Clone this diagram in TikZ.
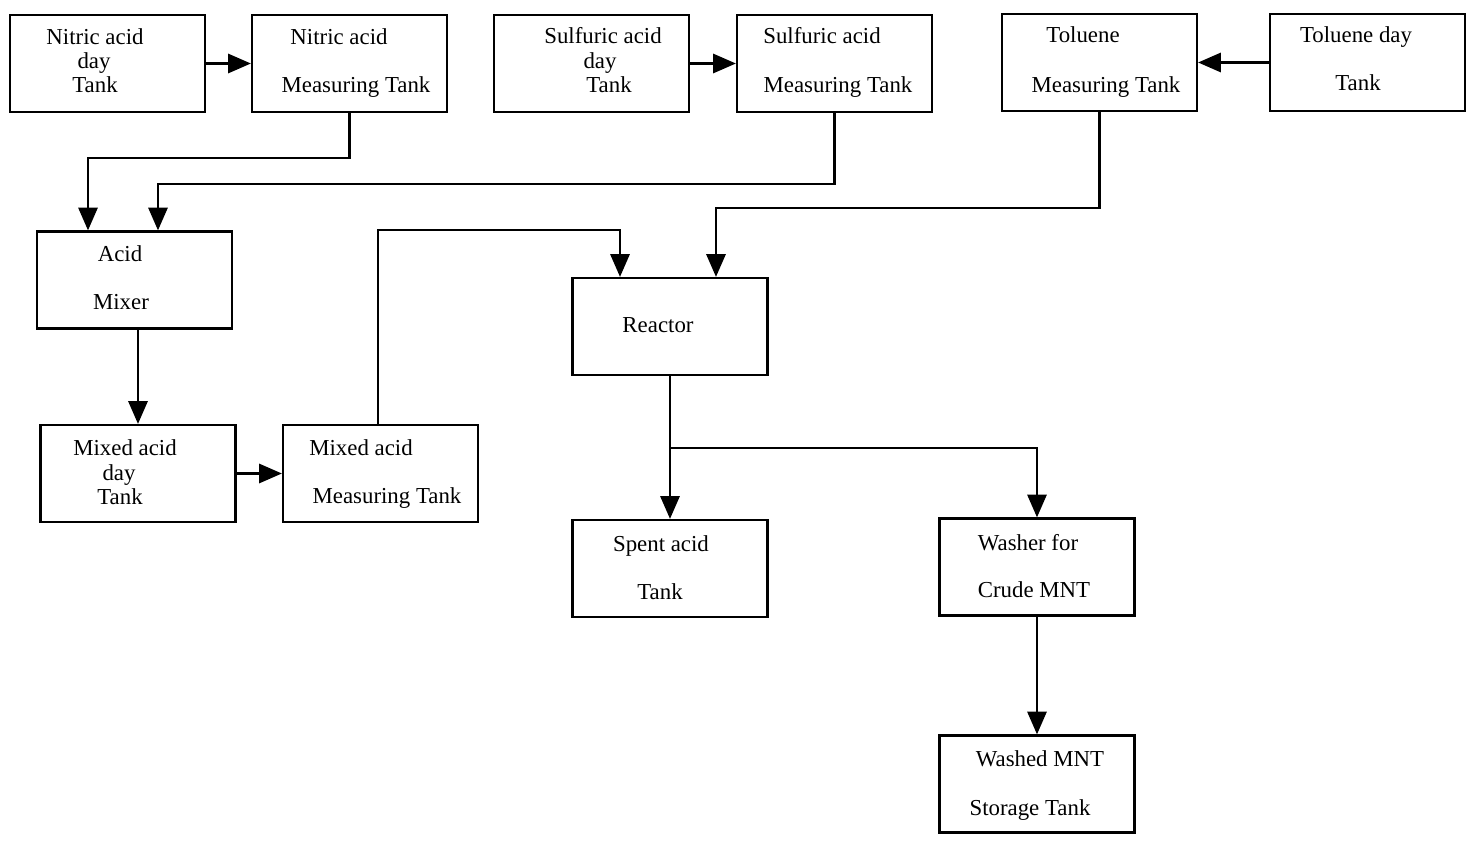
\documentclass[tikz,border=0pt]{standalone}
\usepackage{fontspec}
\setmainfont{Liberation Serif}
\usetikzlibrary{arrows.meta}

\tikzset{
  box/.style={draw, line width=1.3pt, minimum width=3.9cm, minimum height=1.94cm, inner sep=0pt},
  lbl/.style={anchor=base, inner sep=0pt, font=\fontsize{13}{15}\selectfont},
  flow/.style={line width=1.25pt, -{Triangle[length=13pt,width=11pt]}},
}

\begin{document}
\begin{tikzpicture}[x=0.02cm, y=-0.02cm]
\useasboundingbox (0,0) rectangle (1468,841);

% tanks and units
\node[box] (ndt) at (107.5,63.5) {};
\node[box] (nmt) at (349.5,63.5) {};
\node[box] (sdt) at (591.5,63.5) {};
\node[box] (smt) at (834.5,63.5) {};
\node[box] (tmt) at (1099.5,62.5) {};
\node[box] (tdt) at (1367.5,62.5) {};
\node[box] (mix) at (134.5,280) {};
\node[box] (rea) at (670,326.5) {};
\node[box] (mdt) at (138,473.5) {};
\node[box] (mmt) at (380.5,473.5) {};
\node[box] (spt) at (670,568.5) {};
\node[box] (was) at (1037,567) {};
\node[box] (sto) at (1037,784) {};

% labels
\node[lbl] (ndt1) at (95,45) {Nitric acid};
\node[lbl] (ndt2) at (94,69) {day};
\node[lbl] (ndt3) at (95,93) {Tank};

\node[lbl] (nmt1) at (339,45) {Nitric acid};
\node[lbl] (nmt2) at (356,93) {Measuring Tank};

\node[lbl] (sdt1) at (603,44) {Sulfuric acid};
\node[lbl] (sdt2) at (600,69) {day};
\node[lbl] (sdt3) at (609,93) {Tank};

\node[lbl] (smt1) at (822,44) {Sulfuric acid};
\node[lbl] (smt2) at (838,93) {Measuring Tank};

\node[lbl] (tmt1) at (1083,43) {Toluene};
\node[lbl] (tmt2) at (1106,93) {Measuring Tank};

\node[lbl] (tdt1) at (1356,43) {Toluene day};
\node[lbl] (tdt2) at (1358,91) {Tank};

\node[lbl] (mix1) at (120,262) {Acid};
\node[lbl] (mix2) at (121,310) {Mixer};

\node[lbl] (rea1) at (658,333) {Reactor};

\node[lbl] (mdt1) at (125,455) {Mixed acid};
\node[lbl] (mdt2) at (119,480) {day};
\node[lbl] (mdt3) at (120,504) {Tank};

\node[lbl] (mmt1) at (361,455) {Mixed acid};
\node[lbl] (mmt2) at (387,503) {Measuring Tank};

\node[lbl] (spt1) at (661,551) {Spent acid};
\node[lbl] (spt2) at (660,599) {Tank};

\node[lbl] (was1) at (1028,550) {Washer for};
\node[lbl] (was2) at (1034,597) {Crude MNT};

\node[lbl] (sto1) at (1040,766) {Washed MNT};
\node[lbl] (sto2) at (1030,815) {Storage Tank};

% flows
\draw[flow] (ndt.east) -- (nmt.west);
\draw[flow] (sdt.east) -- (smt.west);
\draw[flow] (tdt.west) -- (tmt.east);

\draw[flow] (nmt.south) -- ++(0,45) -| ([xshift=-0.93cm]mix.north);
\draw[flow] (smt.south) -- ++(0,71) -| ([xshift=0.47cm]mix.north);
\draw[flow] (tmt.south) -- ++(0,96) -| ([xshift=0.92cm]rea.north);
\draw[flow] ([xshift=-0.05cm]mmt.north) -- ++(0,-194) -| ([xshift=-1cm]rea.north);

\draw[flow] (mix.south -| mdt.north) -- (mdt.north);
\draw[flow] (mdt.east) -- (mmt.west);

\coordinate (fork) at (0,448);
\draw[flow] (rea.south) -- (spt.north);
\draw[flow] (rea.south |- fork) -| (was.north);
\draw[flow] (was.south) -- (sto.north);
\end{tikzpicture}
\end{document}
